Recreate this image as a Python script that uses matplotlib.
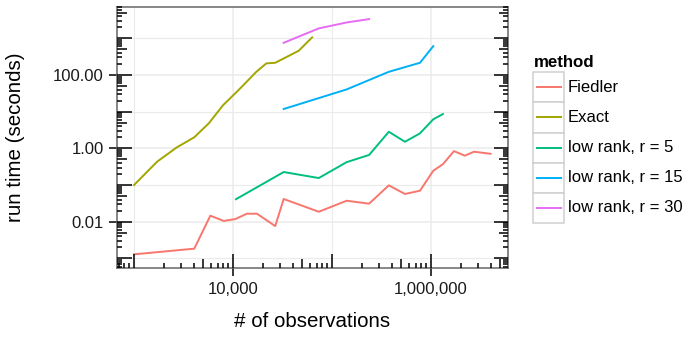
import numpy as np
import matplotlib
matplotlib.use("Agg")
import matplotlib.pyplot as plt
from matplotlib.patches import Rectangle
from matplotlib.lines import Line2D

plt.rcParams['font.family'] = ['Liberation Sans', 'DejaVu Sans']

# ---- data ----
methods = ["Fiedler", "Exact", "low rank, r = 5", "low rank, r = 15", "low rank, r = 30"]
colors = ["#F8766D", "#A3A500", "#00BF7D", "#00B0F6", "#E76BF3"]

fiedler_n = [1000, 4060, 5900, 8060, 10550, 13800, 17460, 26700, 32500, 73500, 140600,
             237000, 375000, 546000, 774000, 1055000, 1320000, 1707000, 2200000, 2717000, 4000000]
fiedler_t = [0.00129, 0.00184, 0.0146, 0.0105, 0.0118, 0.0165, 0.0165, 0.0076, 0.0416, 0.0187,
             0.0373, 0.031, 0.098, 0.057, 0.070, 0.245, 0.37, 0.84, 0.63, 0.81, 0.71]

exact_n = [1000, 1706, 2700, 4060, 5690, 7930, 11400, 17200, 21700, 26700, 46100, 63000]
exact_t = [0.1, 0.43, 1.06, 2.0, 4.8, 15, 39, 122, 207, 215, 457, 1060]

r5_n = [10700, 32500, 73500, 140600, 237000, 375000, 546000, 774000, 1055000, 1320000]
r5_t = [0.041, 0.226, 0.155, 0.42, 0.66, 2.83, 1.51, 2.56, 6.2, 8.6]

r15_n = [32500, 140600, 375000, 774000, 1055000]
r15_t = [11.8, 40.4, 122, 215, 610]

r30_n = [32500, 73500, 140600, 237000]
r30_t = [754, 1860, 2700, 3330]

series_n = [fiedler_n, exact_n, r5_n, r15_n, r30_n]
series_t = [fiedler_t, exact_t, r5_t, r15_t, r30_t]

x_ticks = [1e4, 1e6]
x_ticklabels = ["10,000", "1,000,000"]
y_ticks = [0.01, 1, 100]
y_ticklabels = ["0.01", "1.00", "100.00"]

# ---- figure ----
W, H = 688, 338
fig = plt.figure(figsize=(W / 100, H / 100), dpi=100)
L, R, T, B = 117, 508, 7, 268
ax = fig.add_axes([L / W, 1 - B / H, (R - L) / W, (B - T) / H])
ax.set_xscale('log')
ax.set_yscale('log')
ax.set_xlim(10 ** 2.828, 10 ** 6.778)
ax.set_ylim(10 ** -3.262, 10 ** 3.853)

# grid: every decade
for k in range(2, 8):
    ax.axvline(10 ** k, color='#EBEBEB', lw=1.1 if k % 2 == 0 else 0.8, zorder=0)
for k in range(-4, 5):
    ax.axhline(10.0 ** k, color='#EBEBEB', lw=1.1 if k % 2 == 0 else 0.8, zorder=0)

for n, t, c in zip(series_n, series_t, colors):
    ax.plot(n, t, color=c, lw=1.4, solid_joinstyle='round', zorder=3)

# log ticks (bottom, left, right) drawn inside the panel
axw, axh = R - L, B - T
def tlen(m):
    return 14.5 if m == 1 else (9.5 if m == 5 else 4.7)
xt = ax.get_xaxis_transform()
yt = ax.get_yaxis_transform()
x0, x1 = ax.get_xlim()
y0, y1 = ax.get_ylim()
for k in range(1, 8):
    for m in range(1, 10):
        v = m * 10.0 ** k
        if x0 <= v <= x1:
            ax.plot([v, v], [0, tlen(m) / axh], transform=xt, color='black', lw=1.1,
                    clip_on=False, zorder=4, solid_capstyle='butt')
for k in range(-5, 5):
    for m in range(1, 10):
        v = m * 10.0 ** k
        if y0 <= v <= y1:
            ax.plot([0, tlen(m) / axw], [v, v], transform=yt, color='black', lw=1.1,
                    clip_on=False, zorder=4, solid_capstyle='butt')
            ax.plot([1, 1 - tlen(m) / axw], [v, v], transform=yt, color='black', lw=1.1,
                    clip_on=False, zorder=4, solid_capstyle='butt')

ax.set_xticks(x_ticks)
ax.set_xticklabels(x_ticklabels)
ax.set_yticks(y_ticks)
ax.set_yticklabels(y_ticklabels)
ax.minorticks_off()
ax.tick_params(axis='both', which='major', direction='out', length=6, width=1.1,
               color='black', labelsize=12, labelcolor='#1a1a1a')
ax.tick_params(axis='x', pad=4)
ax.tick_params(axis='y', pad=3.5)
for s in ax.spines.values():
    s.set_color('#666666')
    s.set_linewidth(1.1)
ax.set_facecolor('white')

fig.text(312.5 / W, 1 - 326.7 / H, "# of observations", ha='center', va='baseline',
         fontsize=14.8, color='black')
fig.text(16 / W, 1 - 137.5 / H, "run time (seconds)", ha='center', va='center',
         rotation=90, fontsize=14.8, color='black')

# legend
fig.text(534 / W, 1 - 66.7 / H, "method", ha='left', va='baseline', fontsize=12.2,
         fontweight='bold', color='black')
top = 72.3
kh = 30.1
for i, (name, c) in enumerate(zip(methods, colors)):
    yt0 = top + i * kh
    fig.patches.append(Rectangle((533 / W, 1 - (yt0 + kh) / H), 31 / W, kh / H,
                                 transform=fig.transFigure, facecolor='white',
                                 edgecolor='#D0D0D0', lw=1.1))
    yc = 1 - (yt0 + kh / 2) / H
    fig.lines.append(Line2D([537 / W, 561 / W], [yc, yc], transform=fig.transFigure,
                            color=c, lw=1.4))
    fig.text(568 / W, yc, name, ha='left', va='center', fontsize=12, color='black')

fig.savefig("out.png", dpi=100)
